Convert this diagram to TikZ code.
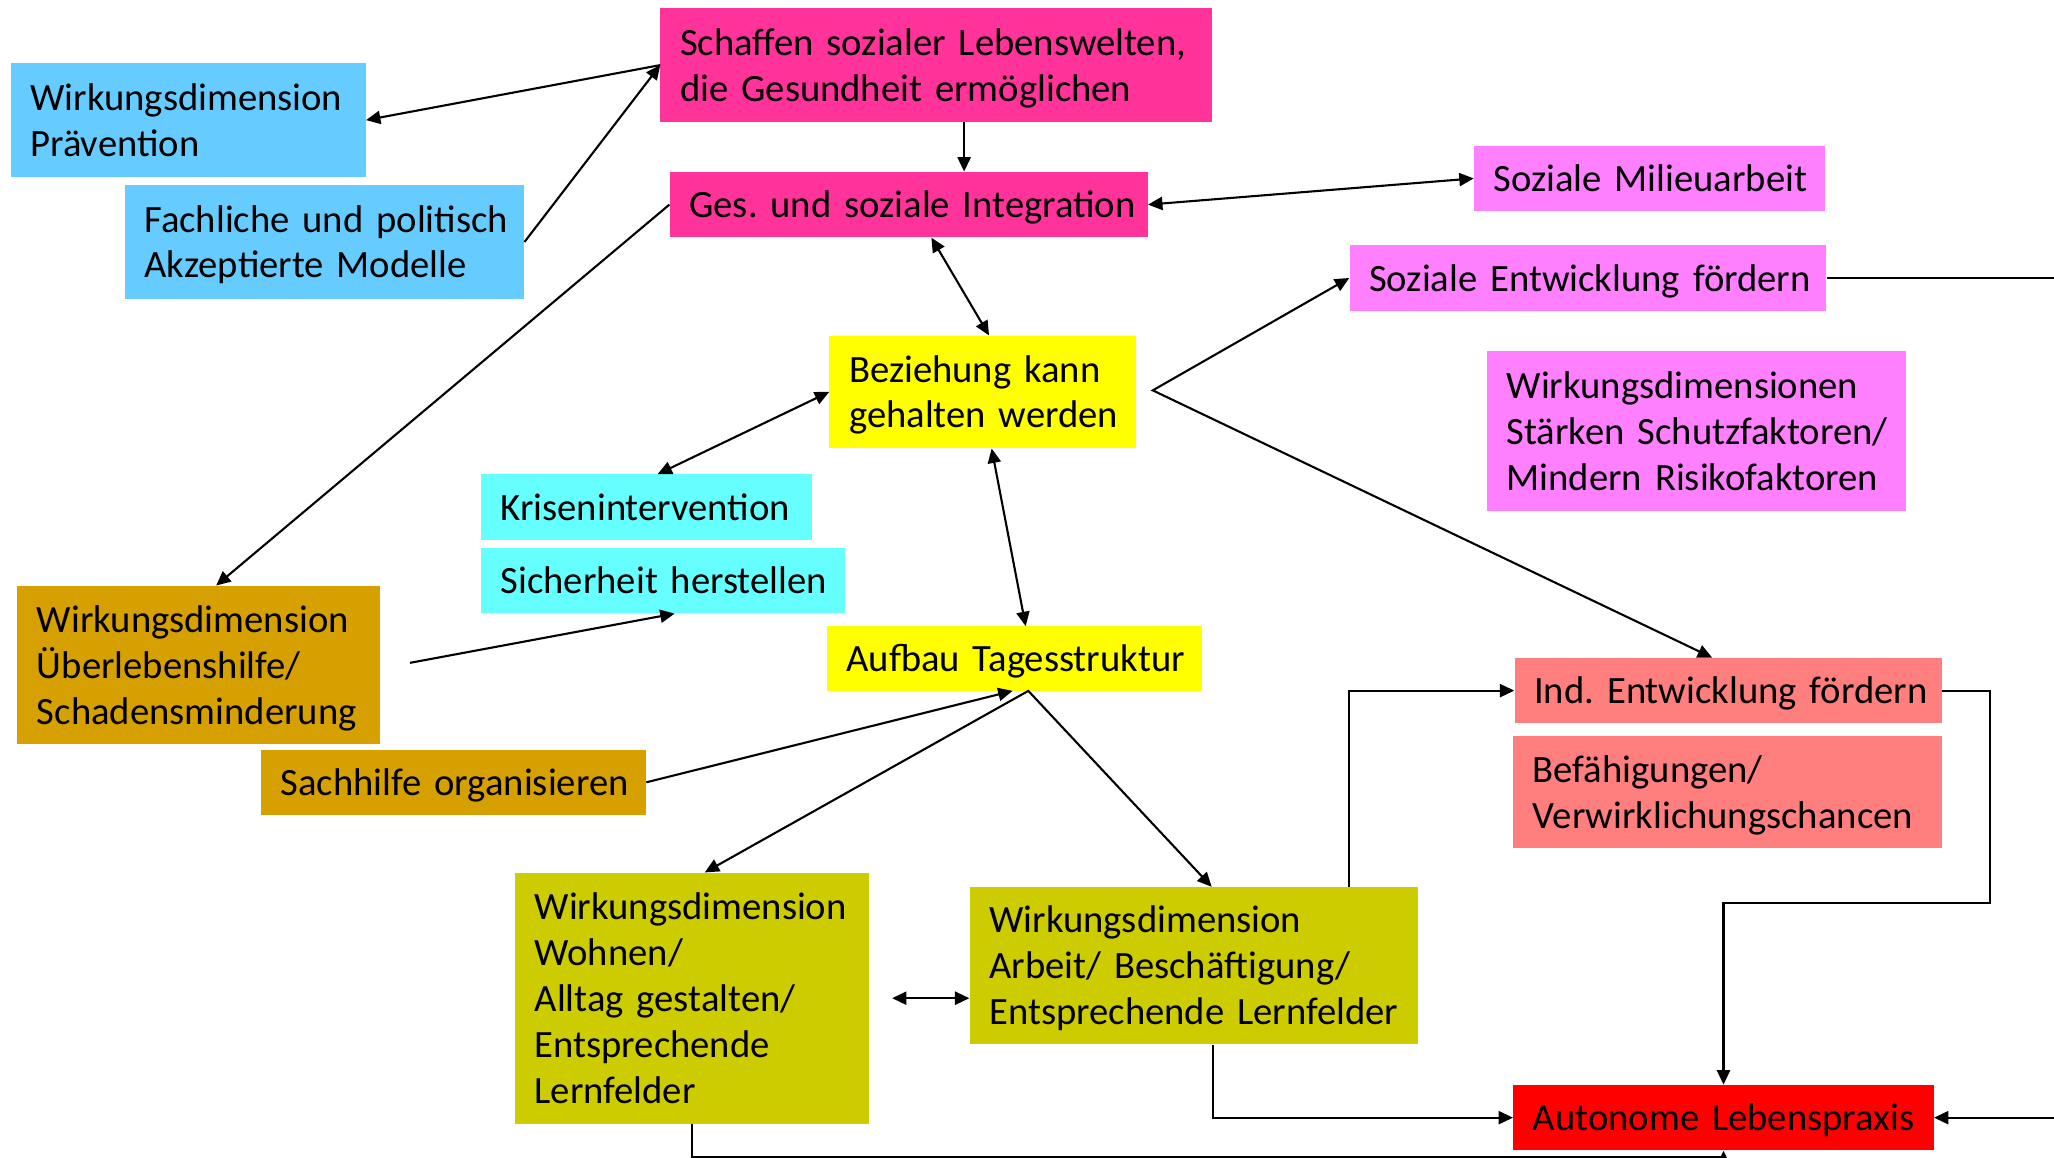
\documentclass[tikz,border=0pt]{standalone}
\usepackage{fontspec}
\setmainfont{Carlito}
\usetikzlibrary{arrows.meta,calc}
\frenchspacing

\definecolor{cPink}{HTML}{FF3399}
\definecolor{cBlue}{HTML}{66CCFF}
\definecolor{cViolet}{HTML}{FF80FF}
\definecolor{cYellow}{HTML}{FFFF00}
\definecolor{cCyan}{HTML}{66FFFF}
\definecolor{cGold}{HTML}{D6A000}
\definecolor{cSalmon}{HTML}{FF7F7F}
\definecolor{cOlive}{HTML}{CCCC00}
\definecolor{cRed}{HTML}{FF0000}

% one unbreakable text line inside a box
\newcommand\nobr[1]{\mbox{#1}}

\begin{document}
\begin{tikzpicture}[x=1pt,y=-1pt,
  blk/.style={anchor=north west, inner xsep=15pt, inner ysep=0pt, align=left,
              font=\fontsize{29.5}{35}\selectfont, text=black,
              execute at begin node={\rule{0pt}{28pt}},
              execute at end node={\rule[-8pt]{0pt}{8pt}}},
  tip/.tip={Triangle[length=11pt,width=10pt]},
  arr/.style={line width=1.6pt, -tip},
  darr/.style={line width=1.6pt, tip-tip}]

\useasboundingbox[fill=white] (0,0) rectangle (1568,884);

% boxes
\node[blk, fill=cPink,   text width=391pt, minimum height=87pt]  (schaffen) at (504,6)    {\nobr{Schaffen sozialer Lebenswelten,}\\\nobr{die Gesundheit ermöglichen}};
\node[blk, fill=cBlue,   text width=241pt, minimum height=87pt]  (praev)    at (8,48)     {\nobr{Wirkungsdimension}\\\nobr{Prävention}};
\node[blk, fill=cBlue,   text width=275pt, minimum height=87pt]  (fach)     at (95,141)   {\nobr{Fachliche und politisch}\\\nobr{Akzeptierte Modelle}};
\node[blk, fill=cPink,   text width=335pt, minimum height=50pt]  (ges)      at (511,131)  {\nobr{Ges. und soziale Integration}};
\node[blk, fill=cViolet, text width=238pt, minimum height=50pt]  (milieu)   at (1125,111) {\nobr{Soziale Milieuarbeit}};
\node[blk, fill=cViolet, text width=334pt, minimum height=50pt]  (sozent)   at (1030,187) {\nobr{Soziale Entwicklung fördern}};
\node[blk, fill=cViolet, text width=290pt, minimum height=122pt] (staerk)   at (1135,268) {\nobr{Wirkungsdimensionen}\\\nobr{Stärken Schutzfaktoren/}\\\nobr{Mindern Risikofaktoren}};
\node[blk, fill=cYellow, text width=204pt, minimum height=86pt]  (bez)      at (633,256)  {\nobr{Beziehung kann}\\\nobr{gehalten werden}};
\node[blk, fill=cCyan,   text width=223pt, minimum height=50pt]  (krise)    at (367,362)  {\nobr{Krisenintervention}};
\node[blk, fill=cCyan,   text width=248pt, minimum height=50pt]  (sicher)   at (367,418)  {\nobr{Sicherheit herstellen}};
\node[blk, fill=cYellow, text width=256pt, minimum height=49pt]  (aufbau)   at (631,478)  {\nobr{Aufbau Tagesstruktur}};
\node[blk, fill=cGold,   text width=247pt, minimum height=121pt] (ueber)    at (13,447)   {\nobr{Wirkungsdimension}\\\nobr{Überlebenshilfe/}\\\nobr{Schadensminderung}};
\node[blk, fill=cGold,   text width=264pt, minimum height=50pt]  (sach)     at (199,572)  {\nobr{Sachhilfe organisieren}};
\node[blk, fill=cSalmon, text width=296pt, minimum height=50pt]  (ind)      at (1156,502) {\nobr{Ind. Entwicklung fördern}};
\node[blk, fill=cSalmon, text width=297pt, minimum height=85pt]  (befae)    at (1155,562) {\nobr{Befähigungen/}\\\nobr{Verwirklichungschancen}};
\node[blk, fill=cOlive,  text width=240pt, minimum height=192pt] (wohnen)   at (393,666)  {\nobr{Wirkungsdimension}\\\nobr{Wohnen/}\\\nobr{Alltag gestalten/}\\\nobr{Entsprechende}\\\nobr{Lernfelder}};
\node[blk, fill=cOlive,  text width=312pt, minimum height=120pt] (arbeit)   at (740,677)  {\nobr{Wirkungsdimension}\\\nobr{Arbeit/ Beschäftigung/}\\\nobr{Entsprechende Lernfelder}};
\node[blk, fill=cRed,    text width=291pt, minimum height=50pt]  (auto)     at (1155,828) {\nobr{Autonome Lebenspraxis}};

% free ends and forks
\coordinate (fork)    at (880,298);
\coordinate (uestart) at (313,506);
\coordinate (wstart)  at (681,762);

% connectors
\draw[arr]  (schaffen.west) -- (praev.east);
\draw[arr]  (fach.east) -- (schaffen.west);
\draw[arr]  (schaffen.south -| 736,0) -- (ges.north -| 736,0);
\draw[darr] (ges.east) -- (milieu.west);
\draw[arr]  (ges.west) -- (ueber.north -| 165,0);
\draw[darr] (ges.south -| 711,0) -- (bez.north -| 755,0);
\draw[darr] (bez.west) -- (krise.north -| 502,0);
\draw[darr] (bez.south -| 757,0) -- (aufbau.north -| 783,0);
\draw[darr] (sozent.west) -- (fork) -- (ind.north -| 1307,0);
\draw[arr]  (uestart) -- (sicher.south -| 515,0);
\draw[arr]  (sach.east) -- (aufbau.south -| 773,0);
\draw[darr] (wohnen.north -| 538,0) -- (aufbau.south -| 785,0) -- (arbeit.north -| 925,0);
\draw[darr] (wstart) -- (arbeit.west |- 0,762);
\draw[arr]  (arbeit.north -| 1030,0) |- (ind.west);
\draw[arr]  (ind.east) -- ++(37,0) -- ++(0,162) -| (auto.north);
\draw[arr]  (arbeit.south -| 926,0) |- (auto.west);
\draw[arr]  (wohnen.south) |- (auto.south |- 0,883) -- (auto.south);
\draw[arr]  (sozent.east) -- ++(210,0) |- (auto.east);
\end{tikzpicture}
\end{document}
